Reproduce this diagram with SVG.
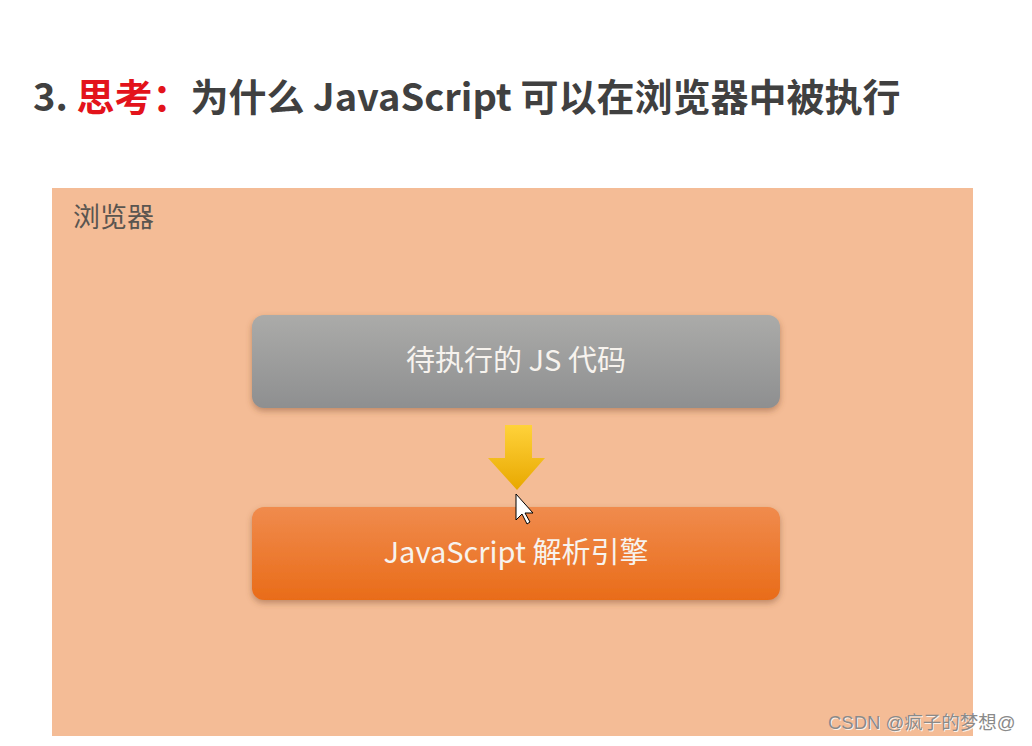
<svg xmlns="http://www.w3.org/2000/svg" width="1032" height="746" viewBox="0 0 1032 746">
<defs>
<style>
.cjk{font-family:"Noto Sans CJK SC","Noto Sans",sans-serif}
.title{font-size:38px;font-weight:bold;fill:#404040}
.box-text{font-size:29px;fill:#F7F3EE;text-anchor:middle}
</style>
<linearGradient id="gGray" x1="0" y1="0" x2="0" y2="1">
<stop offset="0" stop-color="#ABABA9"/><stop offset="1" stop-color="#8E8F90"/>
</linearGradient>
<linearGradient id="gOrange" x1="0" y1="0" x2="0" y2="1">
<stop offset="0" stop-color="#F08B4D"/><stop offset="1" stop-color="#E96C19"/>
</linearGradient>
<linearGradient id="gArrow" x1="0" y1="0" x2="0" y2="1">
<stop offset="0" stop-color="#FFD23A"/><stop offset="1" stop-color="#E8A800"/>
</linearGradient>
<filter id="sh" x="-10%" y="-20%" width="120%" height="150%">
<feDropShadow dx="0" dy="3" stdDeviation="3" flood-color="#7a4a2a" flood-opacity="0.45"/>
</filter>
</defs>
<rect width="1032" height="746" fill="#FFFFFF"/>
<text class="cjk title" x="33" y="111">3. <tspan fill="#E3131B">思考：</tspan>为什么 JavaScript 可以在浏览器中被执行</text>
<g id="browser">
<rect x="52" y="188" width="921" height="548" fill="#F4BC96"/>
<text class="cjk" x="73" y="227" font-size="27" fill="#5A5550">浏览器</text>
</g>
<g id="code">
<rect x="252" y="315" width="528" height="93" rx="12" fill="url(#gGray)" filter="url(#sh)"/>
<text class="cjk box-text" x="516" y="371">待执行的 JS 代码</text>
</g>
<g id="engine">
<rect x="252" y="507" width="528" height="93" rx="12" fill="url(#gOrange)" filter="url(#sh)"/>
<text class="cjk box-text" x="516" y="563">JavaScript 解析引擎</text>
</g>
<g id="connectors">
<polygon points="505,425 532,425 532,458 545,458 517,490 488,458 505,458" fill="url(#gArrow)"/>
</g>
<polygon points="516,494 516,520 522,514 527,524 530,522 525,513 533,513" fill="#FFFFFF" stroke="#000000" stroke-width="1"/>
<text x="828" y="729" font-family="Liberation Sans, Noto Sans CJK SC, sans-serif" font-size="18.5" fill="#FFFFFF" opacity="0.8" transform="translate(1,1)">CSDN @<tspan font-family="Noto Sans CJK SC, sans-serif">疯子的梦想</tspan>@</text>
<text x="828" y="729" font-family="Liberation Sans, Noto Sans CJK SC, sans-serif" font-size="18.5" fill="#8A8A8A">CSDN @<tspan font-family="Noto Sans CJK SC, sans-serif">疯子的梦想</tspan>@</text>
</svg>
